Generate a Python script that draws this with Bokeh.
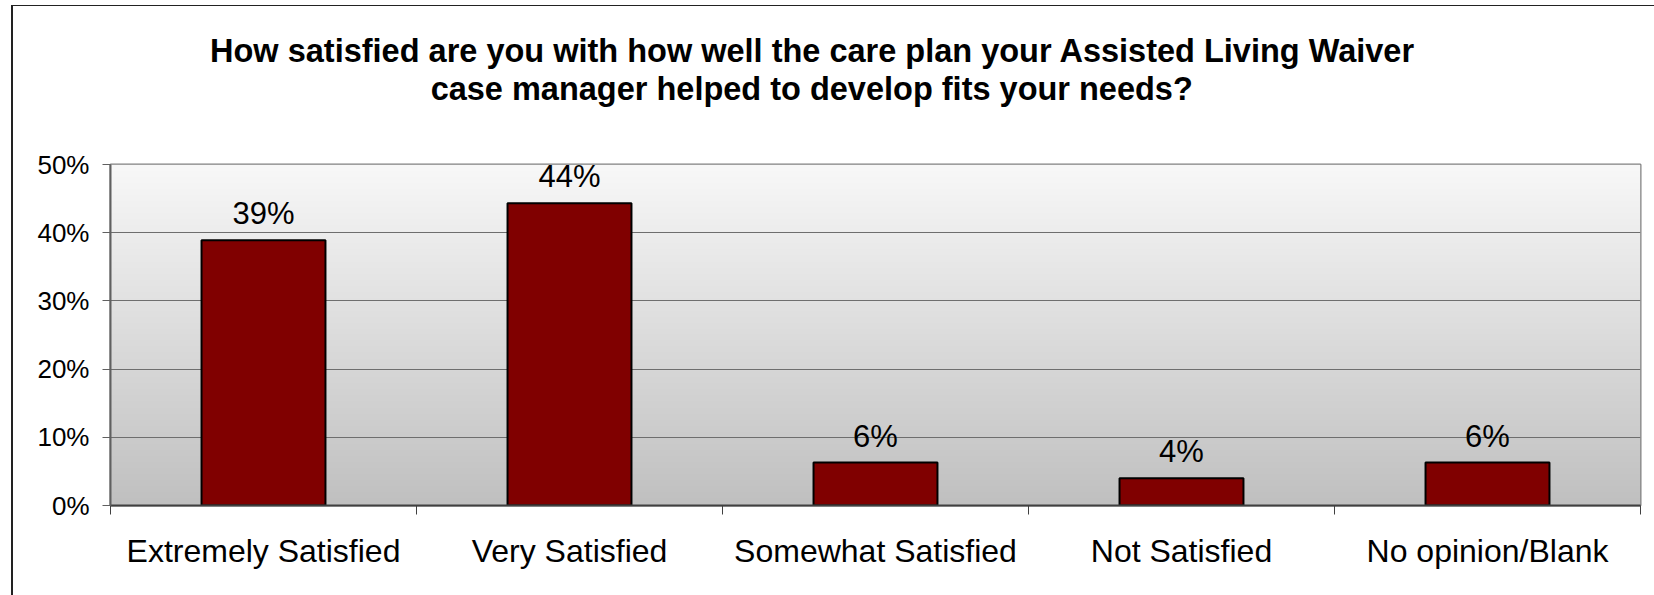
import numpy as np
from bokeh.plotting import figure
from bokeh.layouts import column
from bokeh.models import FixedTicker, LabelSet, ColumnDataSource, PrintfTickFormatter
from bokeh.core.properties import value
from bokeh.embed import file_html
from bokeh.resources import INLINE

# ---- data ----
title_lines = ["How satisfied are you with how well the care plan your Assisted Living Waiver",
               "case manager helped to develop fits your needs?"]
categories = ["Extremely Satisfied", "Very Satisfied", "Somewhat Satisfied", "Not Satisfied", "No opinion/Blank"]
values = [38.9, 44.3, 6.3, 4.0, 6.3]
value_labels = ["39%", "44%", "6%", "4%", "6%"]
y_ticks = [0, 10, 20, 30, 40, 50]

FONT = "Liberation Sans"
W = 1643          # content width (page is 1654, 11px left margin)
TITLE_H = 120     # height of the title strip
MAIN_H = 590 - TITLE_H

# ---- title strip (its own small figure, text placed in pixel units) ----
tf = figure(width=W, height=TITLE_H, x_range=(0, W), y_range=(0, TITLE_H),
            x_axis_location=None, y_axis_location=None,
            output_backend="svg", toolbar_location=None,
            min_border=0, min_border_left=0, min_border_right=0,
            min_border_top=0, min_border_bottom=0)
tf.title = None
tf.grid.visible = False
tf.outline_line_color = None
tf.background_fill_color = "white"
tf.border_fill_color = "white"
tsrc = ColumnDataSource(dict(x=[754, 753], y=[76, 38], t=title_lines))
tf.text(x="x", y="y", text="t", source=tsrc, text_align="center", text_baseline="alphabetic",
        text_font=value(FONT), text_font_size=value("32.5px"), text_font_style="bold",
        text_color="black")

# ---- main chart ----
xs = list(range(len(categories)))
boundaries = [i - 0.5 for i in range(len(categories) + 1)]

p = figure(width=W, height=MAIN_H,
           x_range=(boundaries[0], boundaries[-1]), y_range=(y_ticks[0], y_ticks[-1]),
           output_backend="svg", toolbar_location=None,
           min_border_left=97, min_border_right=16,
           min_border_top=163 - 5 - TITLE_H, min_border_bottom=91)
p.title = None
p.background_fill_color = "white"
p.border_fill_color = "white"
p.outline_line_color = "#808080"
p.outline_line_width = 2

# vertical gradient background of the plot area
n = 400
t = np.linspace(0, 1, n)  # 0 bottom -> 1 top
grey = (192 + (248 - 192) * t).astype(np.uint8)
img = np.empty((n, 1), dtype=np.uint32)
view = img.view(dtype=np.uint8).reshape((n, 1, 4))
view[:, 0, 0] = grey
view[:, 0, 1] = grey
view[:, 0, 2] = grey
view[:, 0, 3] = 255
p.image_rgba(image=[img], x=boundaries[0], y=y_ticks[0],
             dw=boundaries[-1] - boundaries[0], dh=y_ticks[-1] - y_ticks[0], level="image")

# grid
p.xgrid.visible = False
p.ygrid.ticker = FixedTicker(ticks=y_ticks)
p.ygrid.grid_line_color = "#6e6e6e"
p.ygrid.grid_line_width = 1

# bars
src = ColumnDataSource(dict(x=xs, top=values, lab=value_labels))
p.vbar(x="x", top="top", bottom=0, width=0.405, source=src,
       fill_color="#800000", line_color="black", line_width=2)

labels = LabelSet(x="x", y="top", text="lab", source=src, y_offset=16,
                  text_align="center", text_baseline="alphabetic",
                  text_font=value(FONT), text_font_size=value("31px"), text_color="black")
p.add_layout(labels)

# y axis
ya = p.yaxis[0]
ya.ticker = FixedTicker(ticks=y_ticks)
ya.formatter = PrintfTickFormatter(format="%d%%")
ya.axis_line_color = "#606060"
ya.axis_line_width = 2
ya.major_tick_line_color = "#606060"
ya.major_tick_line_width = 1
ya.major_tick_out = 8
ya.major_tick_in = 0
ya.minor_tick_line_color = None
ya.major_label_text_font = FONT
ya.major_label_text_font_size = "26px"
ya.major_label_text_color = "black"
ya.major_label_standoff = 13

# x axis
xa = p.xaxis[0]
xa.ticker = FixedTicker(ticks=xs, minor_ticks=boundaries)
xa.major_label_overrides = {i: c for i, c in zip(xs, categories)}
xa.axis_line_color = "#404040"
xa.axis_line_width = 2
xa.major_tick_out = 0
xa.major_tick_in = 0
xa.major_tick_line_color = None
xa.minor_tick_out = 9
xa.minor_tick_in = 0
xa.minor_tick_line_color = "#404040"
xa.minor_tick_line_width = 1
xa.major_label_text_font = FONT
xa.major_label_text_font_size = "32px"
xa.major_label_text_color = "black"
xa.major_label_standoff = 18

layout = column(tf, p, spacing=0, margin=(5, 0, 0, 11),
                styles={"border-left": "2px solid #222222", "border-top": "1px solid #222222"})

open("out.html", "w").write(file_html(layout, INLINE))
